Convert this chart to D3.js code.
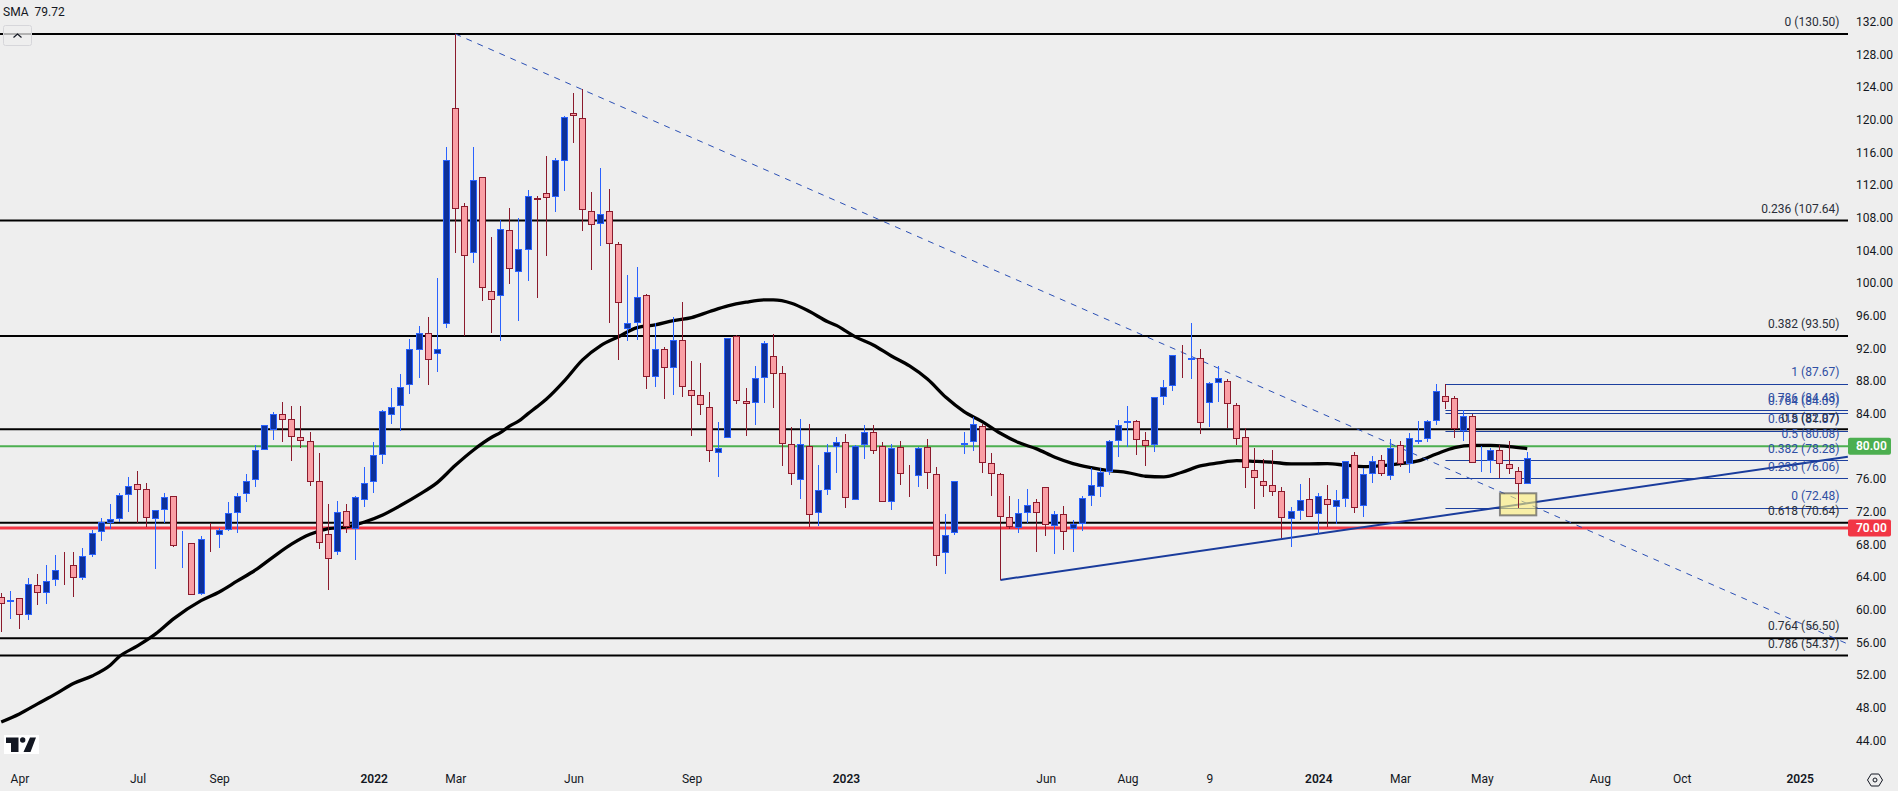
<!DOCTYPE html>
<html>
<head>
<meta charset="utf-8">
<script src="https://cdnjs.cloudflare.com/ajax/libs/d3/7.8.5/d3.min.js"></script>
<style>
  html, body { margin: 0; padding: 0; background: #eeeeee; overflow: hidden; }
  text { font-family: Roboto, "Noto Sans", sans-serif; font-size: 12px; fill: #131722; }
</style>
</head>
<body>
<div id="chart"></div>
<script>
// weekly candles, index 0 is the left-most bar
const opens = [
  61.51,60.89,61.38,59.30,62.98,62.00,63.59,65.59,65.43,63.83,
  66.65,69.51,70.57,71.06,74.00,75.34,74.73,71.06,72.16,73.87,
  67.87,68.12,61.87,69.22,69.10,69.71,71.79,74.12,75.83,79.51,
  81.96,83.91,83.30,81.10,80.61,75.71,69.22,67.02,72.04,69.83,
  73.38,75.59,78.89,83.79,84.89,87.48,91.76,93.84,91.27,94.95,
  121.39,109.39,103.64,112.95,98.99,98.37,106.46,101.31,104.01,110.37,
  110.99,110.50,114.90,120.78,120.17,108.78,107.19,108.78,104.74,94.33,
  95.07,98.50,88.45,91.88,89.55,92.98,86.86,86.25,84.78,79.14,
  80.98,93.47,85.51,85.27,88.33,91.02,88.94,80.25,75.84,80.00,
  71.80,74.61,79.88,80.49,73.39,80.12,81.72,80.00,73.14,79.88,
  76.57,76.33,79.88,76.57,66.90,69.35,80.12,80.49,82.45,77.92,
  76.57,71.31,69.96,71.80,73.14,74.98,70.21,71.68,69.84,70.45,
  73.88,74.98,76.82,80.61,82.82,83.06,80.74,80.12,86.00,87.35,
  90.41,90.53,90.78,85.27,87.72,87.96,85.02,81.10,77.06,75.72,
  75.23,74.49,71.06,72.04,73.51,71.68,73.51,72.53,73.51,78.90,
  72.65,76.57,78.29,76.33,80.12,77.80,80.49,80.86,83.06,86.12,
  85.88,81.84,83.68,78.16,78.16,79.51,77.80,76.94,75.35
];
const closes = [
  60.65,61.14,59.30,63.10,62.00,63.47,64.81,65.47,63.83,66.53,
  69.34,70.69,71.06,74.00,75.10,74.61,71.18,72.16,73.75,67.75,
  68.00,61.75,68.61,69.10,69.71,71.79,73.87,75.71,79.51,82.57,
  83.91,83.18,81.10,80.61,75.59,68.12,66.16,71.91,70.08,73.75,
  75.47,78.89,84.28,84.77,87.22,91.88,93.84,90.54,91.88,115.03,
  109.03,103.27,112.58,99.35,97.88,106.58,101.68,104.13,110.62,110.13,
  110.37,115.03,120.29,120.42,108.90,107.07,108.42,104.74,97.52,95.07,
  98.25,88.46,91.88,89.55,92.98,87.23,86.12,85.02,79.39,79.76,
  93.23,85.51,85.14,88.33,92.61,88.82,80.25,76.57,80.25,71.55,
  74.61,79.27,80.49,73.63,80.00,81.72,79.39,73.14,79.76,76.57,
  76.45,79.76,76.70,66.53,69.10,75.72,80.37,82.70,77.92,76.57,
  71.31,70.08,71.80,72.78,71.80,70.33,71.68,69.47,70.45,73.63,
  75.23,76.82,80.61,82.57,83.06,80.74,80.00,86.00,87.23,91.14,
  90.33,90.78,82.82,87.72,88.33,85.14,80.86,77.31,76.08,75.10,
  74.37,71.19,72.04,73.39,71.31,73.88,72.78,73.39,78.16,72.41,
  76.57,78.16,76.57,79.76,77.80,80.98,80.74,83.06,86.74,85.39,
  82.08,83.68,77.92,78.29,79.51,77.80,77.19,75.35,78.53
];
const highs = [
  62.08,62.28,61.38,63.87,64.36,65.47,66.69,67.02,67.02,67.55,
  69.75,71.22,72.94,74.28,76.24,76.98,75.51,72.16,74.28,73.87,
  69.63,68.12,69.02,70.57,70.00,73.18,74.28,76.61,80.12,82.57,
  84.20,85.43,84.94,84.94,81.75,79.18,72.94,73.30,72.94,73.91,
  77.47,80.53,84.45,87.14,88.85,93.11,94.74,95.84,100.62,116.66,
  130.50,109.80,116.66,112.95,105.64,107.72,109.19,107.93,111.39,110.62,
  115.56,115.27,120.42,123.27,123.76,111.15,114.09,111.52,104.99,100.99,
  101.97,98.66,95.06,92.12,95.80,97.68,90.45,90.16,86.65,82.98,
  93.23,93.59,87.10,89.84,92.86,93.72,89.84,82.33,83.31,82.70,
  77.68,80.25,81.10,81.47,80.12,82.57,82.57,80.49,80.25,80.65,
  77.72,79.92,80.86,77.43,71.68,75.72,81.76,83.55,82.70,79.19,
  76.70,73.92,73.51,74.78,73.51,74.98,72.08,72.70,70.98,73.92,
  77.35,77.31,80.78,83.23,84.94,83.23,81.76,86.00,88.12,91.14,
  92.41,95.10,91.88,87.84,89.84,88.25,85.31,82.21,79.80,78.45,
  79.55,75.02,72.61,75.39,76.12,74.29,75.27,74.65,78.16,79.31,
  77.31,78.82,78.94,80.90,80.65,81.59,83.10,83.23,87.63,87.67,
  86.12,84.41,83.96,80.00,79.76,80.12,80.65,77.47,79.27
];
const lows = [
  57.30,58.85,57.67,58.77,60.61,60.73,62.94,63.06,61.59,63.67,
  66.49,68.40,69.83,70.73,72.00,70.61,70.12,65.02,70.61,67.63,
  65.14,61.75,61.75,67.10,67.55,69.59,69.43,73.22,75.06,79.51,
  80.77,80.53,78.20,79.79,75.14,67.43,62.40,66.73,69.38,66.08,
  72.57,74.32,77.83,82.73,81.91,86.42,88.37,87.52,89.11,94.50,
  103.72,93.50,102.46,97.80,93.88,92.90,99.88,95.35,100.25,98.17,
  103.31,108.70,111.27,117.15,106.42,101.60,104.54,95.11,90.58,92.90,
  93.03,87.03,87.31,85.84,86.29,86.04,81.31,83.84,78.12,76.29,
  80.98,85.23,81.31,82.65,85.35,84.74,77.63,75.31,73.59,70.16,
  70.29,74.08,76.78,72.49,73.39,78.49,79.10,73.14,72.25,75.31,
  73.84,75.06,74.82,65.39,64.41,69.19,79.10,79.43,76.78,73.96,
  63.63,69.92,69.43,70.61,67.10,69.02,66.86,67.31,67.10,69.68,
  72.70,73.84,76.49,78.70,79.96,78.94,77.59,79.31,85.06,86.78,
  88.37,88.25,81.51,82.37,85.43,82.21,80.12,74.90,72.33,73.80,
  73.92,68.74,67.72,70.98,71.31,69.27,70.08,70.49,72.57,71.88,
  71.35,75.51,76.41,75.88,77.51,76.74,80.29,80.53,82.61,84.57,
  81.02,80.61,77.92,76.86,76.74,76.12,76.61,72.48,75.35
];

// moving average, read every couple of bars
const smaWeeks = [0,2,4,6,8,10,12,13,15,17,19,22,24,26,28,30,32,34,36,38,40,42,44,46,48,50,52,54,55,56,57,58,59,60,62,64,66,68,70,72,74,76,78,80,82,84,85,87,89,91,92,93,94,96,98,100,102,104,106,108,110,112,114,116,118,120,122,124,126,128,130,132,134,136,138,140,142,144,146,148,150,152,154,156,158,160,162,164,166,168];
const smaValues = [46.24,47.22,48.45,49.67,50.98,51.87,53.18,54.24,55.55,57.02,58.89,61.10,62.16,63.51,64.85,66.49,68.04,69.22,69.91,70.12,70.73,71.59,72.77,74.08,75.55,77.67,79.55,81.10,81.71,82.50,83.10,84.00,84.85,85.76,88.01,90.58,92.33,93.44,94.54,94.86,95.39,95.76,96.50,97.19,97.64,97.93,97.93,97.52,96.50,95.25,94.78,94.10,93.43,92.41,91.06,89.84,88.21,86.00,84.25,83.02,81.59,80.45,79.68,78.65,77.88,77.39,77.02,76.78,76.33,76.25,76.82,77.59,77.96,78.25,78.16,78.04,77.84,77.84,77.88,77.68,77.51,77.63,77.88,78.21,79.06,79.84,80.12,80.12,79.96,79.72];

// black retracement of the big move
const blackLevels = [130.50, 107.64, 93.50, 82.07, 70.64, 56.50, 54.37];
const blackRatios = ['0', '0.236', '0.382', '0.5', '0.618', '0.764', '0.786'];
// blue retracement of the last swing
const blueLevels = [87.67, 84.43, 84.09, 81.87, 80.08, 78.28, 76.06, 72.48];
const blueRatios = ['1', '0.786', '0.764', '0.618', '0.5', '0.382', '0.236', '0'];

// drawn lines and the highlight box, in [bar, price]
const dashWeeks = [50, 203.3];
const dashPrices = [130.50, 55.78];
const trendWeeks = [110, 203.3];
const trendPrices = [63.63, 78.72];
const boxWeeks = [165, 169];
const boxPrices = [74.24, 71.54];
const blueStartWeek = 159;

// tags on the price axis
const tagPrices = [80, 70];
const tagColors = ['#4caf50', '#f23645'];

const priceTicks = d3.range(132, 43, -4);
const timeTickWeeks = [2, 15, 24, 41, 50, 63, 76, 93, 115, 124, 133, 145, 154, 163, 176, 185, 198];
const timeTickLabels = ['Apr', 'Jul', 'Sep', '2022', 'Mar', 'Jun', 'Sep', '2023', 'Jun', 'Aug', '9', '2024', 'Mar', 'May', 'Aug', 'Oct', '2025'];

const width = 1898;
const height = 791;
const plotRight = 1848;

const svg = d3.select('#chart')
  .append('svg')
  .attr('width', width)
  .attr('height', height)
  .style('display', 'block');

const xScale = d3.scaleLinear().domain([0, 168]).range([1.22, 1527.2]);
const yScale = d3.scaleLinear().domain([132, 44]).range([21.7, 740.2]);
const snap = v => Math.round(v) + 0.5;
const px = i => Math.floor(xScale(i)) + 0.5;

// full width levels
svg.selectAll('.level')
  .data(blackLevels)
  .enter()
  .append('line')
  .attr('x1', 0)
  .attr('x2', plotRight)
  .attr('y1', d => yScale(d))
  .attr('y2', d => yScale(d))
  .attr('stroke', '#000')
  .attr('stroke-width', 2);

svg.selectAll('.fib-blue')
  .data(blueLevels)
  .enter()
  .append('line')
  .attr('x1', xScale(blueStartWeek))
  .attr('x2', plotRight)
  .attr('y1', d => snap(yScale(d)))
  .attr('y2', d => snap(yScale(d)))
  .attr('stroke', '#1c3f9e')
  .attr('stroke-width', 1);

svg.selectAll('.tag-line')
  .data(tagPrices)
  .enter()
  .append('line')
  .attr('x1', 0)
  .attr('x2', plotRight)
  .attr('y1', d => yScale(d))
  .attr('y2', d => yScale(d))
  .attr('stroke', (d, i) => tagColors[i])
  .attr('stroke-width', (d, i) => (i === 0 ? 2 : 3));

const smaLine = d3.line()
  .x((d, i) => xScale(d))
  .y((d, i) => yScale(smaValues[i]))
  .curve(d3.curveMonotoneX);

svg.append('path')
  .attr('d', smaLine(smaWeeks))
  .attr('fill', 'none')
  .attr('stroke', '#000')
  .attr('stroke-width', 3.3)
  .attr('stroke-linejoin', 'round');

svg.append('line')
  .attr('x1', xScale(trendWeeks[0]))
  .attr('x2', xScale(trendWeeks[1]))
  .attr('y1', yScale(trendPrices[0]))
  .attr('y2', yScale(trendPrices[1]))
  .attr('stroke', '#1a3c9c')
  .attr('stroke-width', 2);

svg.append('line')
  .attr('x1', xScale(dashWeeks[0]))
  .attr('x2', xScale(dashWeeks[1]))
  .attr('y1', yScale(dashPrices[0]))
  .attr('y2', yScale(dashPrices[1]))
  .attr('stroke', '#2a4fb5')
  .attr('stroke-width', 1)
  .attr('stroke-dasharray', '6 6');

svg.append('rect')
  .attr('x', xScale(boxWeeks[0]))
  .attr('y', yScale(boxPrices[0]))
  .attr('width', xScale(boxWeeks[1]) - xScale(boxWeeks[0]))
  .attr('height', yScale(boxPrices[1]) - yScale(boxPrices[0]))
  .attr('fill', 'rgba(255,240,120,0.6)')
  .attr('stroke', 'rgba(90,90,90,0.7)')
  .attr('stroke-width', 2);

// candles
const weeks = d3.range(opens.length);
const isUp = i => closes[i] >= opens[i];
const candle = svg.append('g').attr('shape-rendering', 'crispEdges');

candle.selectAll('.wick')
  .data(weeks)
  .enter()
  .append('line')
  .classed('wick', true)
  .attr('x1', i => px(i))
  .attr('x2', i => px(i))
  .attr('y1', i => Math.round(yScale(highs[i])))
  .attr('y2', i => Math.round(yScale(lows[i])))
  .attr('stroke', i => (isUp(i) ? '#2962ff' : '#8b1a2c'));

candle.selectAll('.body')
  .data(weeks)
  .enter()
  .append('rect')
  .classed('body', true)
  .attr('x', i => px(i) - 3)
  .attr('y', i => snap(yScale(Math.max(opens[i], closes[i]))))
  .attr('width', 6)
  .attr('height', i => Math.max(0, Math.round(yScale(Math.min(opens[i], closes[i]))) - Math.round(yScale(Math.max(opens[i], closes[i]))) - 1))
  .attr('fill', i => (isUp(i) ? '#0d3099' : '#fa9fa5'))
  .attr('stroke', i => (isUp(i) ? '#2962ff' : '#8b1a2c'));

// retracement labels sit 12px over their line
const blueLabelText = i => `${blueRatios[i]} (${blueLevels[i].toFixed(2)})`;
const blackLabelText = i => `${blackRatios[i]} (${blackLevels[i].toFixed(2)})`;

svg.selectAll('.blue-label')
  .data(blueLevels)
  .enter()
  .append('text')
  .attr('x', 1839.5)
  .attr('y', d => yScale(d) - 12)
  .attr('dy', '0.35em')
  .attr('text-anchor', 'end')
  .style('fill', '#2f4fa3')
  .text((d, i) => blueLabelText(i));

svg.selectAll('.black-label')
  .data(blackLevels)
  .enter()
  .append('text')
  .attr('x', 1839.5)
  .attr('y', d => yScale(d) - 12)
  .attr('dy', '0.35em')
  .attr('text-anchor', 'end')
  .style('fill', '#2a2e39')
  .text((d, i) => blackLabelText(i));

// axes
const yAxis = d3.axisRight(yScale)
  .tickValues(priceTicks)
  .tickSize(0)
  .tickPadding(0)
  .tickFormat(d => d.toFixed(2));

const yAxisG = svg.append('g')
  .attr('transform', 'translate(1856,0)')
  .call(yAxis);
yAxisG.select('.domain').remove();

const xAxis = d3.axisBottom(xScale)
  .tickValues(timeTickWeeks)
  .tickSize(0)
  .tickPadding(0)
  .tickFormat((d, i) => timeTickLabels[i]);

const xAxisG = svg.append('g')
  .attr('transform', 'translate(0,774)')
  .call(xAxis);
xAxisG.select('.domain').remove();
xAxisG.selectAll('text')
  .style('font-weight', (d, i) => (/^\d{4}$/.test(timeTickLabels[i]) ? 600 : 400));
svg.selectAll('.tick text').style('font-family', 'Roboto, sans-serif').style('font-size', '12px').attr('fill', '#131722');

// price tags
const tags = svg.selectAll('.tag')
  .data(tagPrices)
  .enter()
  .append('g')
  .attr('transform', d => `translate(${plotRight},${yScale(d)})`);

tags.append('rect')
  .attr('x', 0)
  .attr('y', -8.5)
  .attr('width', 43)
  .attr('height', 17)
  .attr('rx', 2)
  .attr('fill', (d, i) => tagColors[i]);

tags.append('text')
  .attr('x', 8)
  .attr('dy', '0.35em')
  .style('fill', '#fff')
  .style('font-weight', 600)
  .text(d => d.toFixed(2));

// legend and widgets
svg.append('text').attr('x', 3).attr('y', 16).text('SMA');
svg.append('text').attr('x', 34.5).attr('y', 16).text(smaValues[smaValues.length - 1].toFixed(2));

svg.append('rect')
  .attr('x', 3.5)
  .attr('y', 25.5)
  .attr('width', 28)
  .attr('height', 20)
  .attr('rx', 2)
  .attr('fill', 'rgba(238,238,238,0.75)')
  .attr('stroke', '#d6d6da');

svg.append('path')
  .attr('d', 'M13.5 37.5 L17.5 34 L21.5 37.5')
  .attr('fill', 'none')
  .attr('stroke', '#131722')
  .attr('stroke-width', 1.2);

// logo in the corner
const logo = svg.append('g');
logo.append('rect').attr('x', 4).attr('y', 735).attr('width', 35).attr('height', 19).attr('fill', '#fff');
logo.append('path')
  .attr('d', 'M6 737.5 H18.5 V752 H11 V743 H6 Z M30 737.5 H36 L30.5 752 H23.5 Z')
  .attr('fill', '#131722');
logo.append('circle').attr('cx', 22.7).attr('cy', 740).attr('r', 2.7).attr('fill', '#131722');

// settings hexagon
const gear = svg.append('g').attr('transform', 'translate(1875,780)');
gear.append('path')
  .attr('d', 'M-7.5 0 L-3.8 -6 H3.8 L7.5 0 L3.8 6 H-3.8 Z')
  .attr('fill', 'none')
  .attr('stroke', '#131722');
gear.append('circle').attr('r', 2).attr('fill', 'none').attr('stroke', '#131722');
</script>
</body>
</html>
